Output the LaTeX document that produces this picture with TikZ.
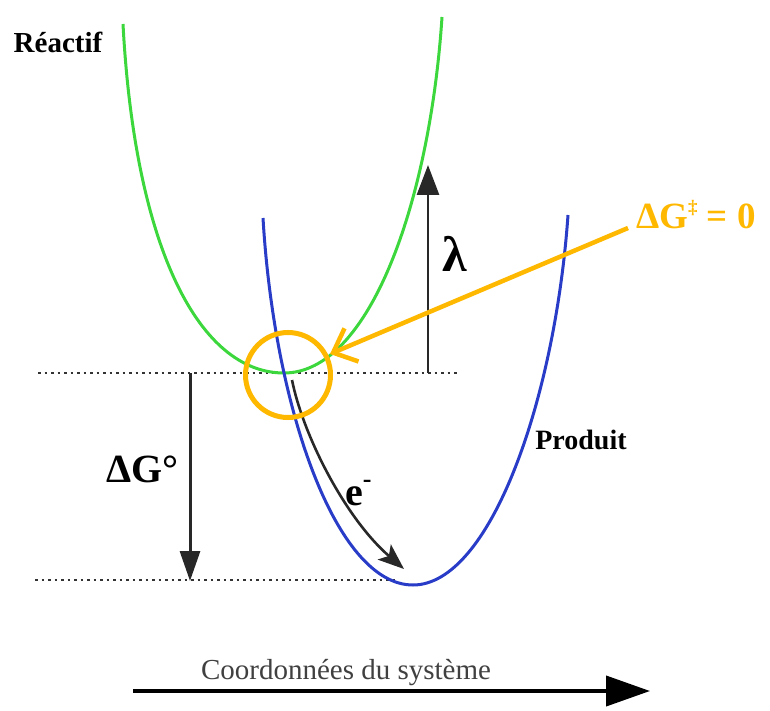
\documentclass[tikz,border=0pt]{standalone}
\usepackage{fontspec}
\setmainfont{Liberation Serif}
\usetikzlibrary{arrows.meta}
\definecolor{reacgreen}{RGB}{60,215,60}
\definecolor{prodblue}{RGB}{40,60,200}
\definecolor{amber}{RGB}{255,184,0}
\definecolor{axisgray}{RGB}{40,40,40}
\tikzset{
  dotline/.style={line width=2.8pt, dash pattern=on 2.6pt off 3.9pt, black!80},
  curvegreen/.style={line width=3pt, reacgreen},
  curveblue/.style={line width=3pt, prodblue},
  blackarrow/.style={line width=2.8pt, axisgray, -{Triangle[length=30pt,width=22pt]}},
  label/.style={inner sep=0pt, font=\bfseries},
}
\begin{document}
\begin{tikzpicture}[x=1pt,y=-1pt]
\useasboundingbox (0,0) rectangle (770,711);
% dotted reference levels
\coordinate (d1a) at (38,373); \coordinate (d1b) at (460,373);
\coordinate (d2a) at (35,580); \coordinate (d2b) at (398,580);
\draw[dotline] (d1a) -- (d1b);
\draw[dotline] (d2a) -- (d2b);
% reactant curve (green)
\draw[curvegreen] (123,24) .. controls (135,250) and (200,373) .. (284,373)
  .. controls (370,373) and (430,200) .. (442,17);
% product curve (blue)
\draw[curveblue] (263,218) .. controls (274,405) and (335,585) .. (413,585)
  .. controls (490,585) and (555,400) .. (568,215);
% lambda arrow
\coordinate (lamfoot) at (428,373); \coordinate (lamtip) at (428,165);
\draw[blackarrow] (lamfoot) -- (lamtip);
% Delta G deg arrow
\coordinate (dgtop) at (190,373); \coordinate (dgtip) at (190,581);
\draw[line width=3pt, axisgray, -{Triangle[length=30pt,width=20pt]}] (dgtop) -- (dgtip);
% e- arrow along blue curve
\coordinate (estart) at (292,380); \coordinate (eend) at (404,569);
\draw[line width=2.6pt, axisgray, -{Stealth[length=26pt,width=20pt,inset=6pt]}]
 (estart) .. controls (303,435) and (345,518) .. (eend);
% orange circle and arrow
\node[draw=amber, line width=5pt, circle, minimum size=85pt, inner sep=0pt] (ring) at (288,375) {};
\coordinate (obegin) at (628,228); \coordinate (otip) at (330,354);
\draw[amber, line width=4.5pt, -{Straight Barb[length=20pt,width=36pt,line width=4.5pt]}] (obegin) -- (otip);
% labels
\node[label, font=\bfseries\fontsize{29}{30}\selectfont] (reac) at (58,42) {Réactif};
\node[label, font=\bfseries\fontsize{28}{30}\selectfont] (prod) at (581,440) {Produit};
\node[label, font=\bfseries\fontsize{50}{52}\selectfont, anchor=base] (lam) at (455,271) {λ};
\node[label, font=\bfseries\fontsize{40}{42}\selectfont, anchor=base west] (dg) at (106,482) {ΔG°};
\node[label, font=\bfseries\fontsize{40}{42}\selectfont, anchor=base west] (el) at (345,505) {e\raisebox{0.45em}{\fontsize{26}{26}\selectfont -}};
\node[label, text=amber, font=\bfseries\fontsize{37}{39}\selectfont, anchor=base west] (dgz) at (636,229) {ΔG\raisebox{0.42em}{\fontsize{19}{19}\selectfont ‡} = 0};
% bottom axis
\node[inner sep=0pt, text=black!75, font=\fontsize{29}{31}\selectfont, anchor=base] (axlab) at (346,679) {Coordonnées du système};
\coordinate (axa) at (133,691); \coordinate (axb) at (650,691);
\draw[line width=4pt, black, -{Triangle[length=44pt,width=30pt]}] (axa) -- (axb);
\end{tikzpicture}
\end{document}
